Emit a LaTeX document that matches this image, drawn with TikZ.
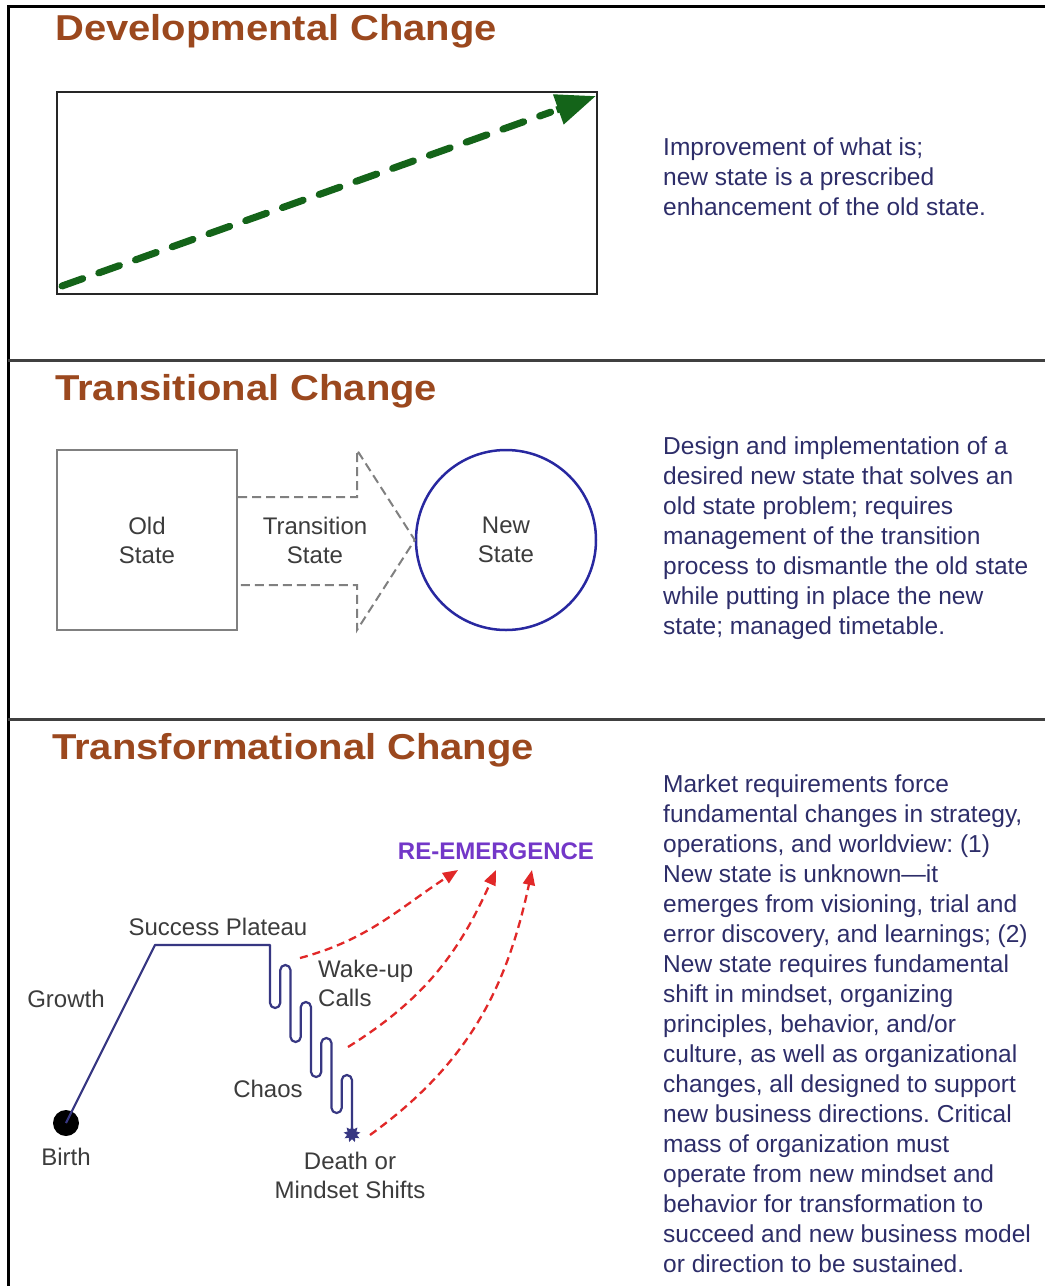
\documentclass[tikz,border=0pt]{standalone}
\usepackage{fontspec}
\usepackage{graphicx}
\setmainfont{Liberation Sans}
\usetikzlibrary{arrows.meta,shapes.geometric,calc}
\definecolor{titlecol}{RGB}{155,72,30}
\definecolor{bodycol}{RGB}{45,45,105}
\definecolor{labelcol}{RGB}{60,60,60}
\definecolor{devgreen}{RGB}{20,100,25}
\definecolor{curvecol}{RGB}{55,55,130}
\definecolor{redarrow}{RGB}{225,40,40}
\definecolor{emerge}{RGB}{115,55,200}
\definecolor{circcol}{RGB}{40,40,160}
\newcommand{\titlefont}{\fontsize{36}{40}\selectfont\bfseries}
\newcommand{\bodyfont}{\fontsize{24.5}{30}\selectfont\frenchspacing}
\newcommand{\labfont}{\fontsize{24}{29}\selectfont}
\newcommand{\wide}[1]{\scalebox{1.11}[1]{#1}}
\tikzset{
  sectitle/.style={anchor=base west, inner sep=0, text=titlecol, font=\titlefont},
  para/.style={anchor=north west, inner sep=0, align=left, text=bodycol, font=\bodyfont},
  lab/.style={inner sep=0, align=center, text=labelcol, font=\labfont},
  divider/.style={line width=3pt, draw=black!75},
  reddash/.style={draw=redarrow, line width=2.3pt, dash pattern=on 8pt off 5pt, -{Triangle[length=15pt,width=12pt]}},
  curve/.style={draw=curvecol, line width=2.2pt},
}
\begin{document}
\begin{tikzpicture}[x=1pt,y=1pt]
\useasboundingbox (0,0) rectangle (1045,-1286);
\fill[white] (0,0) rectangle (1045,-1286);
% frame and dividers
\draw[line width=3pt] (8,-1286) -- (8,-6) -- (1045,-6);
\draw[divider] (8,-360) -- (1045,-360);
\draw[divider] (8,-719) -- (1045,-719);

% ---------- Developmental ----------
\node[sectitle] (t1) at (55,-40) {\wide{Developmental Change}};
\node[draw=black!85, line width=2.5pt, minimum width=540pt, minimum height=202pt, inner sep=0] (devbox) at (327,-193) {};
\coordinate (g0) at (62,-286);
\coordinate (g1) at (596,-96);
\draw[devgreen, line width=7pt, line cap=round, dash pattern=on 22pt off 17pt] (g0) -- ($(g0)!0.915!(g1)$);
\draw[devgreen, line width=7pt, -{Triangle[length=40pt,width=30pt]}, shorten <=525pt] (g0) -- (g1);
\node[para] (d1) at (663,-138) {Improvement of what is;\\new state is a prescribed\\enhancement of the old state.};

% ---------- Transitional ----------
\node[sectitle] (t2) at (55,-400) {\wide{Transitional Change}};
\node[draw=black!50, line width=2pt, minimum width=180pt, minimum height=180pt, inner sep=0, lab] (old) at (147,-540) {Old\\State};
\node[lab] (trans) at (315,-540) {Transition\\State};
\node[circle, draw=circcol, line width=2.5pt, minimum size=180pt, inner sep=0, lab] (new) at (506,-540) {New\\State};
\draw[black!50, line width=2pt, dash pattern=on 9pt off 5pt]
  (old.east |- 0,-497) -- (357,-497) -- (357,-450) -- (new.west) -- (357,-630) -- (357,-585) -- (old.east |- 0,-585);
\node[para] (d2) at (663,-437) {Design and implementation of a\\desired new state that solves an\\old state problem; requires\\management of the transition\\process to dismantle the old state\\while putting in place the new\\state; managed timetable.};

% ---------- Transformational ----------
\node[sectitle] (t3) at (52,-759) {\wide{Transformational Change}};
\node[inner sep=0, text=emerge, font=\fontsize{24}{28}\selectfont\bfseries] (re) at (496,-851) {RE-EMERGENCE};
\node[circle, fill=black, minimum size=26pt, inner sep=0] (birth) at (66,-1123) {};
\node[star, star points=9, star point ratio=1.7, fill=curvecol, minimum size=17pt, inner sep=0] (death) at (352,-1134) {};
\def\r{5.125}
\draw[curve, line join=round]
  (birth.center) -- (155,-945) -- (270,-945)
  -- (270,-1002.875) arc[start angle=180,end angle=360,radius=\r]
  -- (280.25,-970.125) arc[start angle=180,end angle=0,radius=\r]
  -- (290.5,-1036.875) arc[start angle=180,end angle=360,radius=\r]
  -- (300.75,-1007.125) arc[start angle=180,end angle=0,radius=\r]
  -- (311,-1071.875) arc[start angle=180,end angle=360,radius=\r]
  -- (321.25,-1043.125) arc[start angle=180,end angle=0,radius=\r]
  -- (331.5,-1107.875) arc[start angle=180,end angle=360,radius=\r]
  -- (341.75,-1080.125) arc[start angle=180,end angle=0,radius=\r]
  -- (death.center);
\coordinate (s1) at (300,-958);
\coordinate (s2) at (348,-1047);
\coordinate (s3) at (370,-1135);
\coordinate (e1) at (458,-870);
\coordinate (e2) at (496,-870);
\coordinate (e3) at (532,-870);
\draw[reddash] (s1) to[out=15,in=213] (e1);
\draw[reddash] (s2) to[out=32,in=246] (e2);
\draw[reddash] (s3) to[out=36,in=258] (e3);
\node[lab] (plateau) at (218,-927) {Success Plateau};
\node[lab] (growth) at (66,-999) {Growth};
\node[lab, anchor=north west, align=left] (wake) at (318,-960) {Wake-up\\Calls};
\node[lab] (chaos) at (268,-1089) {Chaos};
\node[lab] (birthl) at (66,-1157) {Birth};
\node[lab, anchor=north] (deathl) at (350,-1152) {Death or\\Mindset Shifts};
\node[para] (d3) at (663,-775) {Market requirements force\\fundamental changes in strategy,\\operations, and worldview: (1)\\New state is unknown---it\\emerges from visioning, trial and\\error discovery, and learnings; (2)\\New state requires fundamental\\shift in mindset, organizing\\principles, behavior, and/or\\culture, as well as organizational\\changes, all designed to support\\new business directions. Critical\\mass of organization must\\operate from new mindset and\\behavior for transformation to\\succeed and new business model\\or direction to be sustained.};
\end{tikzpicture}
\end{document}
